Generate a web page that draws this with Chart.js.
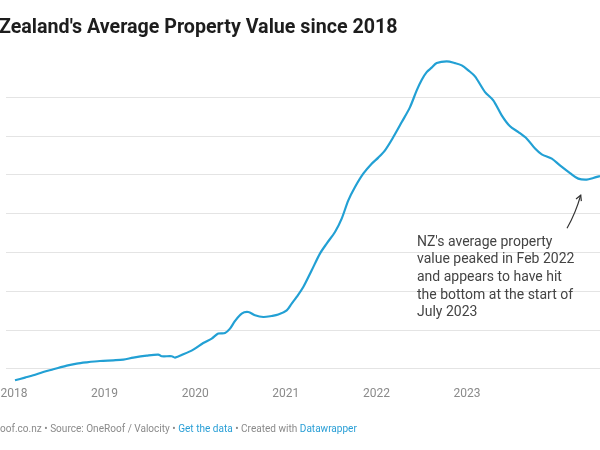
<!DOCTYPE html>
<html><head><meta charset="utf-8">
<script src="https://cdn.jsdelivr.net/npm/chart.js@4/dist/chart.umd.min.js"></script>
<style>
html,body{margin:0;padding:0;background:#fff;}
#wrap{position:relative;width:600px;height:450px;overflow:hidden;font-family:Roboto,"Liberation Sans",sans-serif;}
#title{position:absolute;white-space:nowrap;font-weight:700;color:#1d1d1d;line-height:1;}
#foot{position:absolute;white-space:nowrap;color:#8a8a8a;line-height:1;}
#foot a{color:#2a9fd6;text-decoration:none;}
#c{position:absolute;left:0;top:0;}
</style></head>
<body><div id="wrap">
<canvas id="c" width="600" height="450"></canvas>
<div id="title"><span id="tHidden">New </span><span id="tVis">Zealand's Average Property Value since 2018</span></div>
<div id="foot"><span id="fHidden">Chart: OneR</span><span id="fVis">oof.co.nz • Source: OneRoof / Valocity • <a>Get the data</a> • Created with <a>Datawrapper</a></span></div>
</div>
<script>
// ---- data (decimal year positions as drawn, average value in NZD) ----
const dates = [2018.011,2018.121,2018.213,2018.323,2018.434,2018.582,2018.692,2018.802,2018.949,2019.096,2019.206,2019.317,2019.465,2019.593,2019.630,2019.741,2019.777,2019.869,2019.979,2020.089,2020.182,2020.255,2020.329,2020.384,2020.439,2020.513,2020.586,2020.660,2020.752,2020.844,2020.917,2021.010,2021.065,2021.120,2021.193,2021.286,2021.377,2021.451,2021.543,2021.617,2021.690,2021.764,2021.855,2021.948,2022.021,2022.095,2022.187,2022.280,2022.371,2022.445,2022.501,2022.555,2022.610,2022.666,2022.776,2022.868,2022.942,2023.015,2023.088,2023.199,2023.290,2023.383,2023.475,2023.567,2023.660,2023.751,2023.825,2023.936,2024.026,2024.137,2024.228,2024.322,2024.394,2024.468];
const values = [685400,688900,691900,696100,699600,704400,707000,708600,710300,711200,712100,714700,717300,718600,716400,716400,714700,718900,725000,733500,739200,745600,746400,752000,761800,771400,773400,769200,767000,768300,770100,775600,784300,792800,805600,827200,848700,861600,876500,893800,917300,934500,951700,964600,972400,981800,998900,1018200,1037500,1059100,1072800,1082600,1088300,1094200,1096400,1094200,1091300,1084800,1077100,1056900,1046200,1026900,1012700,1005300,996800,984000,976600,971100,962400,952500,945300,944000,946100,948700];
const xTickYears = [2018,2019,2020,2021,2022,2023];
const yTicks = [700000,750000,800000,850000,900000,950000,1000000,1050000];
const annotationLines = ["NZ's average property","value peaked in Feb 2022","and appears to have hit","the bottom at the start of","July 2023"];

// ---- fit header / footer text ----
function fitText(el, vis, hidden, fs0, targetW, leftVis, baselineY) {
  el.style.fontSize = fs0 + 'px';
  const w = vis.getBoundingClientRect().width;
  const fs = fs0 * targetW / w;
  el.style.fontSize = fs + 'px';
  const hw = hidden.getBoundingClientRect().width;
  el.style.left = (leftVis - hw) + 'px';
  el.style.top = (baselineY - 0.84 * fs) + 'px';
}
fitText(document.getElementById('title'), document.getElementById('tVis'), document.getElementById('tHidden'), 18, 399, -1, 33.5);
fitText(document.getElementById('foot'), document.getElementById('fVis'), document.getElementById('fHidden'), 11, 357, 0, 432.5);

const annoPlugin = {
  id: 'anno',
  afterDatasetsDraw(chart) {
    const {ctx, scales:{x, y}} = chart;
    ctx.save();
    ctx.font = '14px Roboto, "Liberation Sans", sans-serif';
    ctx.fillStyle = '#444';
    ctx.textBaseline = 'middle';
    ctx.textAlign = 'left';
    const tx = x.getPixelForValue(2022.448);
    const ty = y.getPixelForValue(863200);
    annotationLines.forEach((l, i) => ctx.fillText(l, tx, ty + i * 17.6));
    // arrow
    const sx = x.getPixelForValue(2024.104), sy = y.getPixelForValue(881300);
    const ex = x.getPixelForValue(2024.255), ey = y.getPixelForValue(924000);
    ctx.strokeStyle = '#333';
    ctx.lineWidth = 1.2;
    ctx.beginPath();
    ctx.moveTo(sx, sy);
    ctx.quadraticCurveTo((sx+ex)/2 + 2, (sy+ey)/2 + 1, ex, ey);
    ctx.stroke();
    const ang = Math.atan2(ey - sy, ex - sx);
    ctx.beginPath();
    ctx.moveTo(ex - 6*Math.cos(ang - 0.5), ey - 6*Math.sin(ang - 0.5));
    ctx.lineTo(ex, ey);
    ctx.lineTo(ex - 6*Math.cos(ang + 0.5), ey - 6*Math.sin(ang + 0.5));
    ctx.stroke();
    ctx.restore();
  }
};

new Chart(document.getElementById('c'), {
  type: 'line',
  data: {
    datasets: [{
      data: dates.map((d, i) => ({x: d, y: values[i]})),
      borderColor: '#22a0d4',
      borderWidth: 2.2,
      pointRadius: 0,
      tension: 0.3,
      fill: false
    }]
  },
  options: {
    responsive: false,
    animation: false,
    layout: {padding: {left: 6, right: 0, top: 58.6, bottom: 40.5}},
    plugins: {legend: {display: false}, tooltip: {enabled: false}},
    scales: {
      x: {
        type: 'linear',
        min: 2018 - 8/90.6,
        max: 2018 + 586/90.6,
        grid: {display: false, drawTicks: false},
        border: {display: false},
        afterBuildTicks: s => { s.ticks = xTickYears.map(v => ({value: v})); },
        afterFit: s => { s.height = 25; s.paddingLeft = 0; s.paddingRight = 0; },
        ticks: {
          autoSkip: false, maxRotation: 0, padding: 2,
          color: '#8a8a8a',
          font: {family: 'Roboto', size: 12},
          callback: v => String(v)
        }
      },
      y: {
        type: 'linear',
        min: 680000,
        max: 1100000,
        grid: {color: '#e4e4e4', lineWidth: 1, drawTicks: false},
        border: {display: false},
        afterBuildTicks: s => { s.ticks = yTicks.map(v => ({value: v})); },
        afterFit: s => { s.width = 0; },
        ticks: {display: false}
      }
    }
  },
  plugins: [annoPlugin]
});
</script>
</body></html>
